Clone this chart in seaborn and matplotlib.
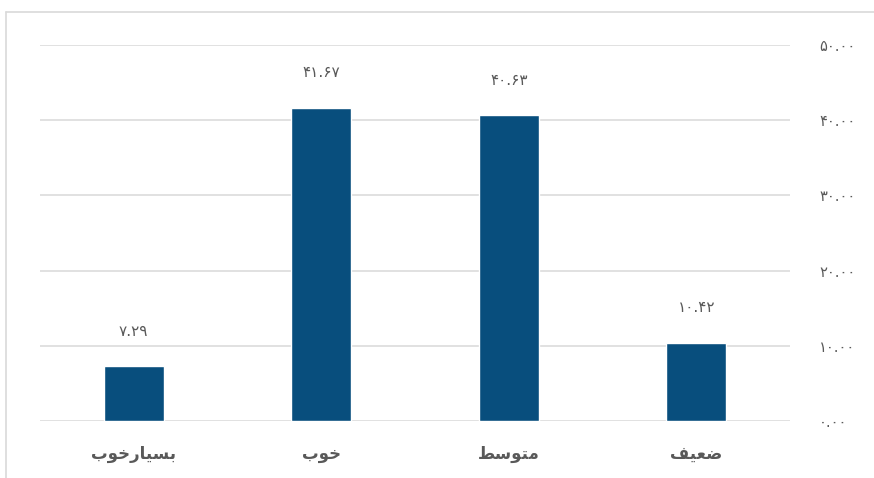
import matplotlib

matplotlib.use("Agg")
import matplotlib.pyplot as plt
import pandas as pd
import seaborn as sns
from matplotlib import ticker
from matplotlib.lines import Line2D

# data, in display order from left to right (chart reads right to left)
categories = ["بسیارخوب", "خوب", "متوسط", "ضعیف"]
values = [7.29, 41.67, 40.63, 10.42]
y_ticks = [0, 10, 20, 30, 40, 50]

BAR_COLOR = "#084E7D"
TEXT_COLOR = "#595959"
GRID_COLOR = "#D9D9D9"

# presentation forms: isolated, final, initial, medial
FORMS = {
    "ب": ("\ufe8f", "\ufe90", "\ufe91", "\ufe92"),
    "ت": ("\ufe95", "\ufe96", "\ufe97", "\ufe98"),
    "خ": ("\ufea5", "\ufea6", "\ufea7", "\ufea8"),
    "س": ("\ufeb1", "\ufeb2", "\ufeb3", "\ufeb4"),
    "ض": ("\ufebd", "\ufebe", "\ufebf", "\ufec0"),
    "ط": ("\ufec1", "\ufec2", "\ufec3", "\ufec4"),
    "ع": ("\ufec9", "\ufeca", "\ufecb", "\ufecc"),
    "ف": ("\ufed1", "\ufed2", "\ufed3", "\ufed4"),
    "م": ("\ufee1", "\ufee2", "\ufee3", "\ufee4"),
    "ی": ("\ufbfc", "\ufbfd", "\ufef3", "\ufef4"),
    "ا": ("\ufe8d", "\ufe8e", None, None),
    "ر": ("\ufead", "\ufeae", None, None),
    "و": ("\ufeed", "\ufeee", None, None),
}


def shape(word: str) -> str:
    """Join Persian letters by hand and reverse them for left-to-right drawing."""
    out = []
    for i, ch in enumerate(word):
        forms = FORMS.get(ch)
        if forms is None:
            out.append(ch)
            continue
        prev = word[i - 1] if i > 0 else None
        nxt = word[i + 1] if i + 1 < len(word) else None
        joins_prev = prev in FORMS and FORMS[prev][2] is not None
        joins_next = nxt in FORMS and forms[2] is not None
        if joins_prev and joins_next:
            out.append(forms[3])
        elif joins_prev:
            out.append(forms[1])
        elif joins_next:
            out.append(forms[2])
        else:
            out.append(forms[0])
    return "".join(reversed(out))


def fa_digits(s: str) -> str:
    return s.translate(str.maketrans("0123456789", "۰۱۲۳۴۵۶۷۸۹"))


df = pd.DataFrame({"category": categories, "value": values})

sns.set_theme(style="white")
plt.rcParams["font.family"] = ["DejaVu Sans"]

fig = plt.figure(figsize=(8.74, 4.78), dpi=100)
ax = fig.add_axes([40 / 874, 1 - 421 / 478, 750 / 874, 376 / 478])

sns.barplot(
    data=df,
    x="category",
    y="value",
    order=categories,
    color=BAR_COLOR,
    saturation=1,
    width=0.32,
    ax=ax,
)

ax.set_ylim(0, 50)
ax.set_xlim(-0.5, 3.5)
ax.set_yticks(y_ticks)
ax.yaxis.tick_right()
ax.yaxis.set_major_formatter(ticker.FuncFormatter(lambda v, _: fa_digits(f"{v:.2f}")))
ax.yaxis.grid(True, color=GRID_COLOR, linewidth=1.1)
ax.set_axisbelow(True)
ax.set_xlabel("")
ax.set_ylabel("")
ax.set_xticks(range(len(categories)))
ax.set_xticklabels([shape(c) for c in categories], fontweight="bold")
ax.tick_params(axis="x", length=0, pad=17, labelsize=12, labelcolor=TEXT_COLOR)
ax.tick_params(axis="y", length=0, pad=21, labelsize=10.5, labelcolor=TEXT_COLOR)
for side in ["top", "right", "left", "bottom"]:
    ax.spines[side].set_visible(False)

for i, v in enumerate(values):
    ax.annotate(
        fa_digits(f"{v:.2f}"),
        xy=(i, v),
        xytext=(0, 25),
        textcoords="offset points",
        ha="center",
        va="center",
        fontsize=11,
        color=TEXT_COLOR,
    )

# outer chart frame, clipped at the right and bottom edges
fig.add_artist(Line2D([5.5 / 874, 1], [1 - 11.5 / 478] * 2, color=GRID_COLOR, linewidth=1.2))
fig.add_artist(Line2D([5.5 / 874] * 2, [0, 1 - 11.5 / 478], color=GRID_COLOR, linewidth=1.2))

fig.savefig("out.png", dpi=100)
plt.close(fig)
